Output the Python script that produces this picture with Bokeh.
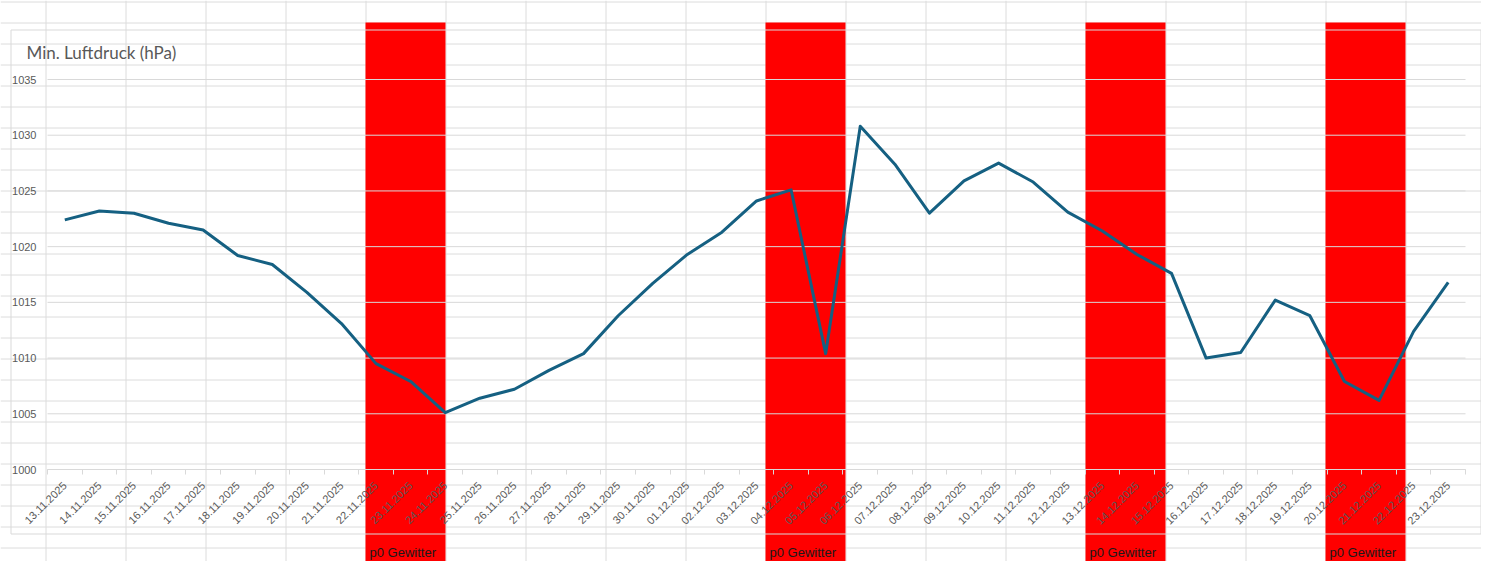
import math
from bokeh.plotting import figure
from bokeh.models import Range1d, LinearAxis, FixedTicker
from bokeh.core.properties import value
from bokeh.embed import file_html
from bokeh.resources import INLINE

# ---------------- data ----------------
datum = [
    "13.11.2025", "14.11.2025", "15.11.2025", "16.11.2025", "17.11.2025",
    "18.11.2025", "19.11.2025", "20.11.2025", "21.11.2025", "22.11.2025",
    "23.11.2025", "24.11.2025", "25.11.2025", "26.11.2025", "27.11.2025",
    "28.11.2025", "29.11.2025", "30.11.2025", "01.12.2025", "02.12.2025",
    "03.12.2025", "04.12.2025", "05.12.2025", "06.12.2025", "07.12.2025",
    "08.12.2025", "09.12.2025", "10.12.2025", "11.12.2025", "12.12.2025",
    "13.12.2025", "14.12.2025", "15.12.2025", "16.12.2025", "17.12.2025",
    "18.12.2025", "19.12.2025", "20.12.2025", "21.12.2025", "22.12.2025",
    "23.12.2025",
]
luftdruck = [
    1022.4, 1023.2, 1023.0, 1022.1, 1021.5, 1019.2, 1018.4, 1015.9, 1013.1, 1009.5,
    1007.9, 1005.1, 1006.4, 1007.2, 1008.9, 1010.4, 1013.8, 1016.7, 1019.3, 1021.3,
    1024.1, 1025.1, 1010.4, 1030.8, 1027.4, 1023.0, 1025.9, 1027.5, 1025.8, 1023.1,
    1021.4, 1019.3, 1017.6, 1010.0, 1010.5, 1015.2, 1013.8, 1007.9, 1006.2, 1012.4,
    1016.8,
]
y_ticks = [1000, 1005, 1010, 1015, 1020, 1025, 1030, 1035]
titel = "Min. Luftdruck (hPa)"
gewitter_spalten = [4, 9, 13, 16]      # red-filled spreadsheet columns
gewitter_text = "p0 Gewitter"

# ---------------- layout (screen geometry) ----------------
OFF = 0
W, H = 1481, 561
PL, PR = 47, 1465        # plot area left/right (image px)
PY0, PY1 = 469, 79       # pixel rows of y_min / y_max
COL0, COLW = 45, 80      # spreadsheet columns
ROW0, ROWH = 1, 21       # spreadsheet rows

N = len(datum)
cw = (PR - PL) / N
ymin, ymax = y_ticks[0], y_ticks[-1]


def xd(X):
    return (X - PL) / cw - 0.5


def yd(Y):
    return ymin + (PY0 - Y) * (ymax - ymin) / (PY0 - PY1)


p = figure(
    width=W, height=H,
    x_range=Range1d(xd(OFF), xd(OFF + W)),
    y_range=Range1d(yd(OFF + H), yd(OFF)),
    x_axis_location=None, y_axis_location=None,
    toolbar_location=None, output_backend="svg",
    min_border=0, min_border_left=0, min_border_right=0,
    min_border_top=0, min_border_bottom=0,
    outline_line_color=None,
    background_fill_color="white", border_fill_color="white",
)
for g in p.grid:
    g.visible = False

GRID = "#d9d9d9"

# spreadsheet grid
vx = [COL0 + COLW * k + 0.5 for k in range(-1, 20) if OFF <= COL0 + COLW * k <= OFF + W]
hy = [ROW0 + ROWH * k + 0.5 for k in range(0, 29) if OFF <= ROW0 + ROWH * k <= OFF + H]
p.segment(x0=[xd(x) for x in vx], x1=[xd(x) for x in vx],
          y0=yd(OFF + H), y1=yd(OFF), line_color="#dcdcdc", line_width=1)
p.segment(x0=xd(OFF), x1=xd(OFF + W),
          y0=[yd(y) for y in hy], y1=[yd(y) for y in hy], line_color="#dcdcdc", line_width=1)

# red cells
p.quad(left=[xd(COL0 + COLW * c) for c in gewitter_spalten],
       right=[xd(COL0 + COLW * (c + 1)) for c in gewitter_spalten],
       bottom=yd(ROW0 + ROWH * 27), top=yd(ROW0 + ROWH * 1),
       fill_color="#ff0000", line_color=None)
p.text(x=[xd(COL0 + COLW * c + 4) for c in gewitter_spalten],
       y=yd(min(ROW0 + ROWH * 26 + 11, OFF + H - 9)),
       text=[gewitter_text] * len(gewitter_spalten),
       text_font=value("Liberation Sans"), text_font_size="13px",
       text_color="#1a1a1a", text_baseline="middle", text_align="left")

# chart border
p.quad(left=xd(10.5), right=xd(min(1487.5, OFF + W - 0.5)), bottom=yd(533.5), top=yd(29.5),
       fill_color=None, line_color=GRID, line_width=1)

# chart gridlines
p.segment(x0=-0.5, x1=N - 0.5, y0=y_ticks, y1=y_ticks, line_color=GRID, line_width=1)

# data line
p.line(x=list(range(N)), y=luftdruck, line_color="#156082", line_width=3, line_join="round")

# title
p.text(x=[xd(26)], y=[yd(52)], text=[titel], text_font=value("Lato"),
       text_font_size="17px", text_color="#595959",
       text_baseline="middle", text_align="left")

# axes
xaxis = LinearAxis(
    fixed_location=ymin,
    ticker=FixedTicker(ticks=list(range(N)), minor_ticks=[i - 0.5 for i in range(N + 1)]),
    bounds=(-0.5, N - 0.5),
    major_label_overrides={i: d for i, d in enumerate(datum)},
    major_label_orientation=math.pi / 4,
    axis_line_color=GRID,
    major_tick_line_color=None,
    minor_tick_line_color=GRID, minor_tick_out=5, minor_tick_in=0,
    major_label_standoff=8,
    major_label_text_font="Liberation Sans",
    major_label_text_font_size="11px",
    major_label_text_color="#595959",
)
p.add_layout(xaxis, "below")

yaxis = LinearAxis(
    fixed_location=xd(36),
    ticker=FixedTicker(ticks=y_ticks),
    axis_line_color=None,
    major_tick_line_color=None, minor_tick_line_color=None,
    major_tick_out=0, major_label_standoff=0,
    major_label_text_font="Liberation Sans",
    major_label_text_font_size="11px",
    major_label_text_color="#595959",
)
p.add_layout(yaxis, "left")

open("out.html", "w").write(file_html(p, INLINE))
